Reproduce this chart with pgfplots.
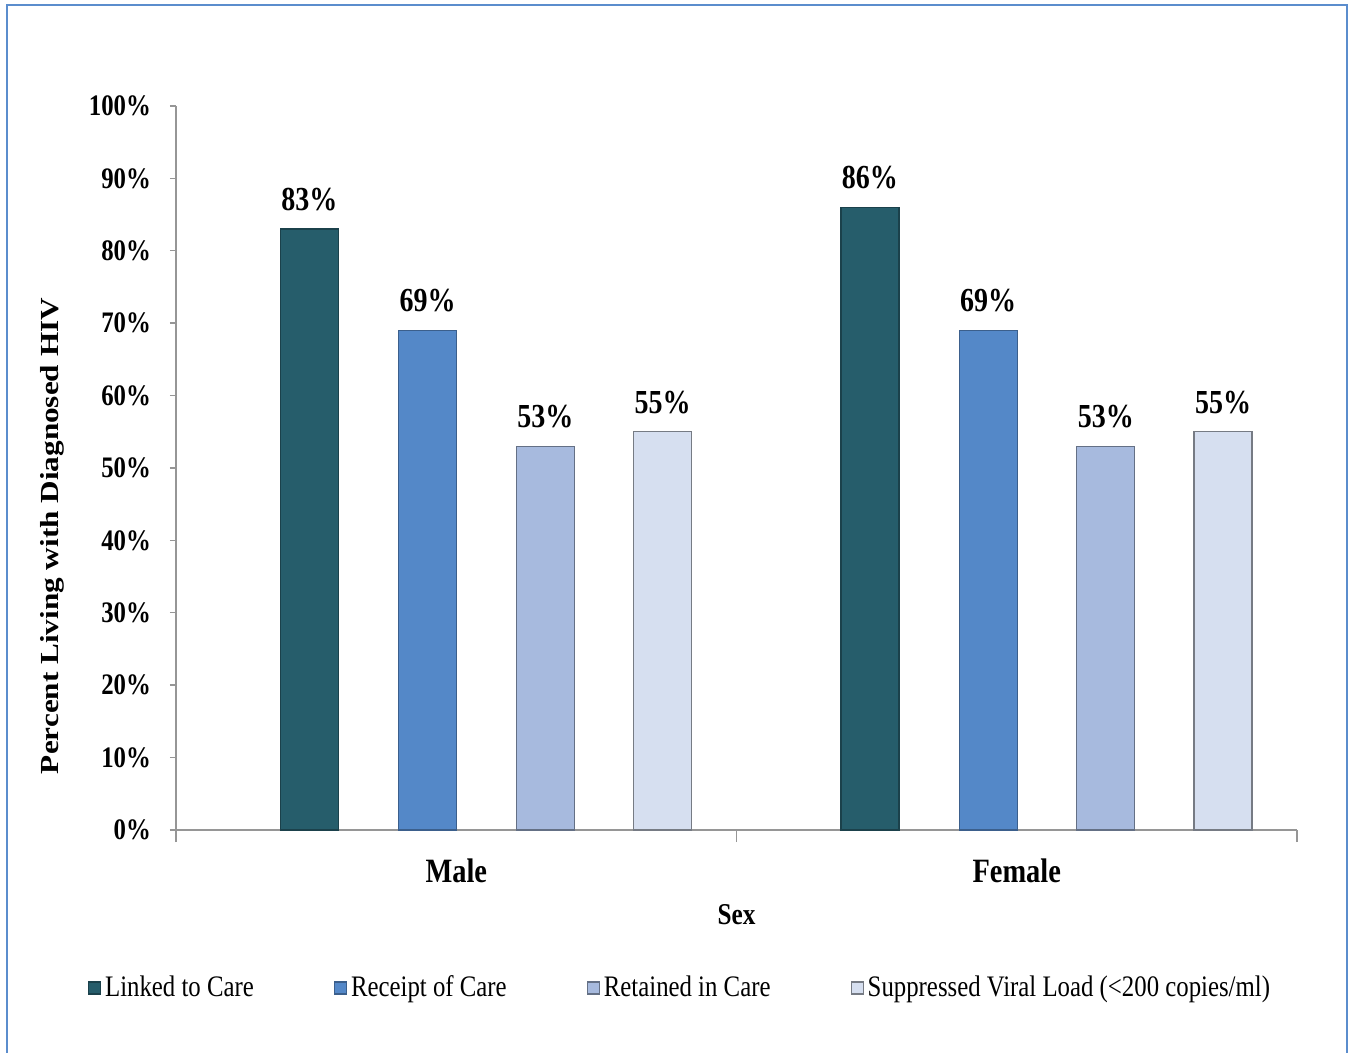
\documentclass[border=0pt]{standalone}
\usepackage{fontspec}
\setmainfont{Liberation Serif}
\usepackage{graphicx}
\usepackage{pgfplots}
\pgfplotsset{compat=1.18}
\definecolor{cLink}{RGB}{38,93,107}
\definecolor{cRec}{RGB}{84,136,200}
\definecolor{cRet}{RGB}{167,186,222}
\definecolor{cSup}{RGB}{214,223,240}
\definecolor{frameblue}{RGB}{91,141,205}
\definecolor{axgray}{RGB}{150,150,150}
\newcommand{\vs}[1]{\scalebox{1}[1.2]{#1}}
\begin{document}
\begin{tikzpicture}
\useasboundingbox (-88pt,-111.5pt) rectangle (586pt,415pt);
\draw[frameblue, line width=1.2pt] (-84.5pt,-112pt) -- (-84.5pt,412.5pt) -- (585.5pt,412.5pt) -- (585.5pt,-112pt);
\begin{axis}[
  at={(0pt,0pt)}, anchor=south west,
  scale only axis,
  width=560.5pt, height=362pt,
  xmin=-0.5, xmax=1.5,
  ymin=0, ymax=100,
  axis x line*=bottom, axis y line*=left,
  axis line style={axgray, line width=0.7pt, -},
  every tick/.style={axgray, line width=0.7pt},
  tick align=outside,
  major tick length=3pt,
  ytick={0,10,...,100},
  yticklabel={\vs{\pgfmathprintnumber{\tick}\%}},
  yticklabel style={font=\fontsize{12.4}{14}\selectfont\bfseries, xshift=-6pt},
  /pgf/number format/assume math mode=true,
  xtick={0,1},
  xticklabels={\vs{Male},\vs{Female}},
  xtick style={draw=none},
  xticklabel style={font=\fontsize{14.2}{16}\selectfont\bfseries, yshift=-8pt},
  extra x ticks={-0.5,0.5,1.5},
  extra x tick labels={},
  extra x tick style={major tick length=6pt, xtick style={draw=axgray}},
  xlabel={\vs{Sex}},
  xlabel style={font=\fontsize{12.6}{14}\selectfont\bfseries, yshift=5pt},
  ylabel={\scalebox{1.2}[1]{Percent Living with Diagnosed HIV}},
  every axis y label/.style={at={(-62pt,147pt)}, rotate=90, anchor=center, font=\fontsize{13}{15}\selectfont\bfseries},
  nodes near coords={\vs{\pgfmathprintnumber{\pgfplotspointmeta}\%}},
  every node near coord/.append style={font=\fontsize{14}{16}\selectfont\bfseries, black, yshift=5.5pt},
  legend columns=4,
  legend style={at={(252.5pt,-79pt)}, anchor=center, draw=none, fill=none,
    font=\fontsize{12.4}{14}\selectfont,
    /tikz/every even column/.append style={column sep=38pt}},
  legend image code/.code={\fill[#1] (0pt,-3pt) rectangle (6pt,3pt);},
  clip=false,
]
\addplot[ybar, bar width=29pt, bar shift=0pt, fill=cLink, draw=cLink!70!black, line width=0.6pt]
  coordinates {(-0.262,83) (0.738,86)};
\addlegendentry{\vs{Linked to Care}}
\addplot[ybar, bar width=29pt, bar shift=0pt, fill=cRec, draw=cRec!70!black, line width=0.6pt]
  coordinates {(-0.051,69) (0.949,69)};
\addlegendentry{\vs{Receipt of Care}}
\addplot[ybar, bar width=29pt, bar shift=0pt, fill=cRet, draw=cRet!60!black, line width=0.6pt]
  coordinates {(0.159,53) (1.159,53)};
\addlegendentry{\vs{Retained in Care}}
\addplot[ybar, bar width=29pt, bar shift=0pt, fill=cSup, draw=cSup!55!black, line width=0.6pt]
  coordinates {(0.368,55) (1.368,55)};
\addlegendentry{\vs{Suppressed Viral Load (<200 copies/ml)}}
\end{axis}
\end{tikzpicture}
\end{document}
